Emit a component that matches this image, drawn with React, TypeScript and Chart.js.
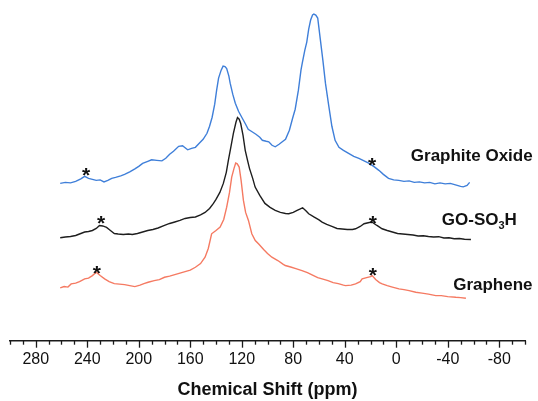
import React, { useEffect, useRef } from 'react';
import { Chart, registerables } from 'chart.js';

Chart.register(...registerables);

const FONT = "'Liberation Sans', Arial, Helvetica, sans-serif";

// [chemical shift (ppm), offset intensity (a.u.)]
const graphiteOxide: [number, number][] = [
  [261, 157], [257, 158], [253, 157.5], [249, 159], [245, 161.5], [242, 164], [239, 162], [236, 161],
  [233, 160], [230, 160.5], [227, 158.5], [224, 160], [221, 162], [218, 163], [214, 164.5], [211, 166],
  [207, 168.5], [203, 171.5], [200, 174], [197, 177], [193, 179], [190, 180.5], [186, 180], [182, 179.5],
  [179, 182], [176, 186], [173, 189], [169, 194], [166, 194.5], [162, 190.5], [159, 192], [156, 193],
  [153, 197], [150, 201], [147, 207], [145, 214], [143, 223], [141, 236], [139.5, 250], [138, 262],
  [136, 270], [134.5, 274], [133, 273.5], [131.7, 271.5], [130, 264], [129, 257], [127, 246], [125, 237],
  [122.5, 229], [120, 223], [117, 216], [115, 211], [112, 208.5], [109, 206], [106, 203], [104, 200],
  [101, 199], [99, 198.5], [96.5, 195], [94, 193.5], [91, 196], [88, 199], [86, 201], [83, 210],
  [80.5, 222], [78.5, 231], [76, 250], [74, 270], [73, 277], [71, 290], [69.5, 298], [68, 311],
  [66.5, 320], [65, 325], [64, 326], [62.5, 325], [61, 322], [59, 301], [57, 280], [55, 257],
  [52.5, 235], [50, 214], [47.5, 200], [44.5, 193], [41, 190], [37, 187], [33, 184], [29, 182],
  [25, 179.5], [21, 177], [17, 173.5], [13.5, 170], [10, 166], [6, 162], [2, 160.5], [-2, 160],
  [-6, 159], [-10, 159.5], [-14, 158], [-18, 158.5], [-22, 157.5], [-26, 158], [-30, 156.5], [-34, 157.5],
  [-38, 156.5], [-42, 157], [-46, 155.5], [-50, 154], [-52, 153.5], [-55, 155], [-57, 158],
];

const goSO3H: [number, number][] = [
  [261, 102.7], [257, 103.5], [253, 104], [249, 105], [246, 106.5], [242, 108.5], [239, 109], [236, 110],
  [233, 112], [230.5, 115], [228, 114.5], [225, 113], [222, 110], [219, 107], [216, 106.5], [212, 106],
  [208, 106.5], [205, 106], [201, 107], [197, 108.5], [193, 110], [189, 111], [185, 112.5], [180, 115],
  [176, 117], [172, 118.5], [168, 120], [164, 122], [160, 123], [156, 123.5], [152, 125.5], [148.5, 128],
  [145, 132], [142, 137], [140, 141], [137, 148], [134.3, 157], [132, 168], [130.4, 180], [128.5, 193],
  [126.5, 207], [124.5, 218], [123.3, 222.7], [122, 221], [120.8, 216.7], [119, 205], [117.3, 190], [115.5, 180],
  [114, 172], [111.5, 162], [109.6, 153.3], [106, 145], [102, 137], [98, 133], [94, 130], [90, 128],
  [86, 127], [83.5, 126.7], [80, 128], [77, 130], [74.5, 131.5], [72.7, 132.7], [70, 129.5], [68, 126.7],
  [64, 123.5], [60, 120.5], [57.6, 118.3], [54, 116], [50, 114], [46, 112], [42, 111.5], [38, 111],
  [34, 111], [31.6, 111.7], [28, 114], [25, 116.7], [21, 118], [18.7, 118.3], [15, 115], [11, 111.7],
  [7, 110], [3, 108.5], [-1, 107], [-5, 106.5], [-9, 106], [-13, 105.5], [-17, 104.5], [-21, 104.8],
  [-25, 104], [-29, 103.5], [-33, 103.8], [-37, 102.5], [-41, 102.8], [-45, 101.8], [-49, 102], [-53, 101.2],
  [-58, 101],
];

const graphene: [number, number][] = [
  [261, 52.7], [258, 54], [255, 53.5], [252.5, 56.7], [249, 57.5], [246, 59], [242, 61.7], [239, 62.5],
  [236, 65], [233, 68.3], [230, 65], [226.5, 61.7], [223, 59], [219, 57], [215, 56.5], [211, 56],
  [207, 55], [203, 54], [199, 55.5], [196, 57], [192.7, 58.3], [188, 60], [184, 61], [180, 63.3],
  [176, 64.5], [172, 66], [168, 67.5], [164, 69], [160, 70.5], [156, 73.3], [152, 77], [148.5, 83.3],
  [146, 92], [143.4, 106.7], [140, 110], [136.8, 113.3], [134, 121], [131.7, 133.3], [129.5, 148], [127.8, 163.3],
  [126, 172], [124.7, 177.3], [123.5, 176.5], [122, 173.3], [120.5, 160], [118.7, 140], [117, 128], [114.8, 120],
  [112.2, 106.7], [109.5, 100], [107, 96.7], [103, 91], [100, 87], [96.6, 83.3], [92, 80], [88, 76.5],
  [86.2, 75], [82, 73.5], [78, 72], [73.2, 70], [69, 68], [65, 65.5], [61, 63], [57.6, 61.7],
  [53, 60], [49, 58], [45, 57], [41, 55.5], [39.4, 55], [35, 55.5], [31.6, 56.7], [28, 59],
  [26.5, 61.7], [23, 63], [20, 64], [18.7, 65], [16, 61], [13, 58], [10.9, 56.7], [7, 55],
  [3, 53.5], [-2.1, 51.7], [-6, 51], [-10, 50], [-15.2, 48.3], [-20, 47.5], [-25, 46.5], [-30.7, 45],
  [-35, 45], [-40, 44], [-46.3, 43.3], [-50, 43], [-54.1, 42.3],
];

// spinning sidebands marked with "*"
const sidebandMarks: [number, number][] = [
  [241, 171], [18.7, 181.7],
  [229.3, 123], [18.1, 123],
  [232.5, 74], [18.1, 72],
];

const seriesNames = ['Graphite Oxide', 'GO-SO|3|H', 'Graphene'];
const nameAnchors: [number, number][] = [[-11.3, 184], [-35.4, 120], [-44.2, 55]];

const xMin = -100;
const xMax = 300;
const yMin = 0;
const yMax = 340;

const toXY = (arr: [number, number][]) => arr.map(([x, y]) => ({ x, y }));

const overlayPlugin = {
  id: 'overlay',
  afterDraw(chart: any) {
    const { ctx, scales, chartArea } = chart;
    const xs = scales.x;
    const ys = scales.y;
    ctx.save();
    // tick marks
    ctx.strokeStyle = '#1a1a1a';
    ctx.lineWidth = 1.3;
    xs.ticks.forEach((t: any) => {
      const px = Math.round(xs.getPixelForValue(t.value)) + 0.5;
      const len = t.value % 40 === 0 ? 7 : 4;
      ctx.beginPath();
      ctx.moveTo(px, chartArea.bottom);
      ctx.lineTo(px, chartArea.bottom + len);
      ctx.stroke();
    });
    // asterisks
    ctx.fillStyle = '#111';
    ctx.font = `bold 21px ${FONT}`;
    ctx.textAlign = 'center';
    ctx.textBaseline = 'alphabetic';
    sidebandMarks.forEach(([ppm, v]) => {
      ctx.fillText('*', xs.getPixelForValue(ppm), ys.getPixelForValue(v) + 13);
    });
    // series names
    ctx.textAlign = 'left';
    ctx.textBaseline = 'middle';
    seriesNames.forEach((name, i) => {
      const [ppm, v] = nameAnchors[i];
      let px = xs.getPixelForValue(ppm);
      const py = ys.getPixelForValue(v);
      const parts = name.split('|');
      parts.forEach((p, j) => {
        if (j % 2 === 1) {
          ctx.font = `bold 11px ${FONT}`;
          ctx.fillText(p, px, py + 6);
        } else {
          ctx.font = `bold 17px ${FONT}`;
          ctx.fillText(p, px, py);
        }
        px += ctx.measureText(p).width;
      });
    });
    ctx.restore();
  },
};

export default function App() {
  const canvasRef = useRef<HTMLCanvasElement | null>(null);

  useEffect(() => {
    if (!canvasRef.current) return;
    const chart = new Chart(canvasRef.current, {
      type: 'line',
      data: {
        datasets: [
          { label: 'Graphite Oxide', data: toXY(graphiteOxide), borderColor: '#3f7fd9', borderWidth: 1.4, pointRadius: 0, tension: 0, fill: false },
          { label: 'GO-SO3H', data: toXY(goSO3H), borderColor: '#1e1e1e', borderWidth: 1.4, pointRadius: 0, tension: 0, fill: false },
          { label: 'Graphene', data: toXY(graphene), borderColor: '#f57a62', borderWidth: 1.4, pointRadius: 0, tension: 0, fill: false },
        ],
      },
      options: {
        animation: false,
        responsive: true,
        maintainAspectRatio: false,
        layout: { padding: { left: 10, right: 13, top: 0, bottom: 0 } },
        plugins: { legend: { display: false }, tooltip: { enabled: false }, title: { display: false } },
        scales: {
          x: {
            type: 'linear',
            reverse: true,
            min: xMin,
            max: xMax,
            grid: { display: true, drawOnChartArea: false, drawTicks: false },
            border: { display: true, color: '#1a1a1a', width: 1.6 },
            ticks: {
              stepSize: 10,
              autoSkip: false,
              maxRotation: 0,
              padding: 9,
              color: '#111',
              font: { family: FONT, size: 16 },
              callback: (v: any) => (Number(v) % 40 === 0 ? String(v) : ''),
            },
            title: {
              display: true,
              text: 'Chemical Shift (ppm)',
              color: '#111',
              font: { family: FONT, size: 18, weight: 'bold' },
              padding: { top: 1.5, bottom: 0 },
            },
          },
          y: { display: false, min: yMin, max: yMax },
        },
      },
      plugins: [overlayPlugin],
    });
    return () => chart.destroy();
  }, []);

  return (
    <div style={{ position: 'fixed', left: 0, top: 0, width: 538, height: 401, background: '#fff' }}>
      <canvas ref={canvasRef} />
    </div>
  );
}
